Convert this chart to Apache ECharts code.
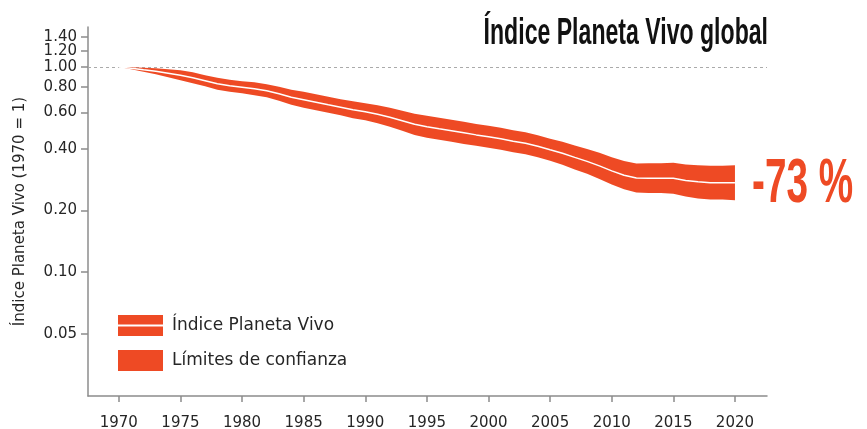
<!DOCTYPE html>
<html>
<head>
<meta charset="utf-8">
<script src="https://cdn.jsdelivr.net/npm/echarts@6/dist/echarts.min.js"></script>
<style>
  html, body { margin: 0; padding: 0; background: #fff; }
  #chart { width: 867px; height: 429px; }
</style>
</head>
<body>
<div id="chart"></div>
<script>
const years = [1970, 1971, 1972, 1973, 1974, 1975, 1976, 1977, 1978, 1979,
  1980, 1981, 1982, 1983, 1984, 1985, 1986, 1987, 1988, 1989,
  1990, 1991, 1992, 1993, 1994, 1995, 1996, 1997, 1998, 1999,
  2000, 2001, 2002, 2003, 2004, 2005, 2006, 2007, 2008, 2009,
  2010, 2011, 2012, 2013, 2014, 2015, 2016, 2017, 2018, 2019, 2020]

// índice (1970 = 1)
const lpi = [1.000, 0.987, 0.970, 0.954, 0.933, 0.912, 0.887, 0.858, 0.829, 0.810,
  0.797, 0.784, 0.766, 0.741, 0.712, 0.693, 0.674, 0.655, 0.637, 0.619,
  0.605, 0.589, 0.569, 0.547, 0.526, 0.512, 0.500, 0.489, 0.478, 0.467,
  0.457, 0.447, 0.435, 0.425, 0.411, 0.395, 0.380, 0.363, 0.347, 0.330,
  0.312, 0.297, 0.288, 0.287, 0.287, 0.287, 0.280, 0.276, 0.273, 0.273, 0.273]

// límites de confianza
const upper = [1.000, 0.998, 0.992, 0.987, 0.976, 0.965, 0.944, 0.913, 0.887, 0.866,
  0.853, 0.843, 0.824, 0.802, 0.775, 0.758, 0.737, 0.717, 0.697, 0.681,
  0.666, 0.652, 0.633, 0.612, 0.592, 0.579, 0.566, 0.553, 0.541, 0.528,
  0.517, 0.506, 0.492, 0.481, 0.465, 0.447, 0.432, 0.415, 0.399, 0.382,
  0.363, 0.348, 0.339, 0.340, 0.340, 0.342, 0.335, 0.332, 0.330, 0.330, 0.332]
const lower = [1.000, 0.976, 0.948, 0.922, 0.892, 0.862, 0.834, 0.807, 0.775, 0.757,
  0.745, 0.729, 0.712, 0.685, 0.654, 0.633, 0.616, 0.599, 0.582, 0.563,
  0.550, 0.532, 0.511, 0.489, 0.467, 0.452, 0.442, 0.432, 0.422, 0.413,
  0.404, 0.395, 0.384, 0.376, 0.363, 0.349, 0.334, 0.317, 0.302, 0.285,
  0.268, 0.254, 0.245, 0.243, 0.243, 0.241, 0.234, 0.229, 0.226, 0.226, 0.224]

const yTicks = [0.05, 0.10, 0.20, 0.40, 0.60, 0.80, 1.00, 1.20, 1.40]
// etiquetas repartidas en dos ejes para que no se oculten por solape
const yLabelsMain = [0.05, 0.10, 0.20, 0.40, 0.60, 0.80, 1.00, 1.40]
const yLabelsExtra = [1.20]
const xTicks = [1970, 1975, 1980, 1985, 1990, 1995, 2000, 2005, 2010, 2015, 2020]
const changeLabel = '-73 %'

const ORANGE = '#ee4a24'
const AXIS = '#8c8c8c'
const TEXT = '#262626'
const FONT = 'DejaVu Sans'

const chart = echarts.init(document.getElementById('chart'))

const lg = (v) => Math.log10(v)
const Y_MIN = -1.603
const Y_MAX = 0.195

// banda de confianza como un solo polígono (superior ida, inferior vuelta)
function renderBand(params, api) {
  if (params.dataIndex !== 0) return
  const pts = []
  for (let i = 0; i < years.length; i++) pts.push(api.coord([years[i], lg(upper[i])]))
  for (let i = years.length - 1; i >= 0; i--) pts.push(api.coord([years[i], lg(lower[i])]))
  return {
    type: 'polygon',
    shape: { points: pts },
    style: { fill: ORANGE },
  }
}

const yLabelStyle = {
  formatter: (v) => Math.pow(10, v).toFixed(2),
  margin: 11,
  hideOverlap: false,
  fontFamily: FONT,
  fontSize: 15,
  color: TEXT,
}

chart.setOption({
  animation: false,
  grid: { left: 88, right: 100, top: 27, bottom: 33, outerBoundsMode: 'none', containLabel: false },
  legend: {
    orient: 'vertical',
    left: 118,
    top: 315,
    padding: 0,
    itemWidth: 45,
    itemHeight: 21,
    itemGap: 14,
    selectedMode: false,
    textStyle: { fontFamily: FONT, fontSize: 17, color: TEXT, padding: [0, 0, 0, 4] },
    data: [
      { name: 'Índice Planeta Vivo', icon: 'path://M0,0H45V9.5H0ZM0,11.5H45V21H0Z', itemStyle: { color: ORANGE, borderWidth: 0 } },
      { name: 'Límites de confianza', icon: 'rect', itemStyle: { color: ORANGE, borderWidth: 0 } },
    ],
  },
  xAxis: {
    type: 'value',
    min: 1967.5,
    max: 2022.6,
    axisLine: { onZero: false, lineStyle: { color: AXIS, width: 1.5 } },
    axisTick: { show: true, length: 6, customValues: xTicks, lineStyle: { color: AXIS, width: 1.5 } },
    axisLabel: { customValues: xTicks, formatter: (v) => String(v), margin: 20, fontFamily: FONT, fontSize: 15, color: TEXT },
    splitLine: { show: false },
  },
  yAxis: [
    {
      type: 'value',
      min: Y_MIN,
      max: Y_MAX,
      axisLine: { show: true, onZero: false, lineStyle: { color: AXIS, width: 1.5 } },
      axisTick: { show: true, length: 7, customValues: yTicks.map(lg), lineStyle: { color: AXIS, width: 1.5 } },
      axisLabel: Object.assign({ customValues: yLabelsMain.map(lg), showMaxLabel: true, showMinLabel: true }, yLabelStyle),
      splitLine: { show: false },
      name: 'Índice Planeta Vivo (1970 = 1)',
      nameLocation: 'middle',
      nameGap: 60,
      nameTextStyle: { fontFamily: FONT, fontSize: 15, color: TEXT },
    },
    {
      type: 'value',
      position: 'left',
      min: Y_MIN,
      max: Y_MAX,
      axisLine: { show: false, onZero: false },
      axisTick: { show: false },
      axisLabel: Object.assign({ customValues: yLabelsExtra.map(lg), showMaxLabel: true, showMinLabel: true }, yLabelStyle),
      splitLine: { show: false },
    },
  ],
  series: [
    {
      name: 'Límites de confianza',
      type: 'custom',
      renderItem: renderBand,
      data: years.map((y, i) => [y, lg(lpi[i])]),
      itemStyle: { color: ORANGE },
      silent: true,
      z: 2,
    },
    {
      name: 'Índice Planeta Vivo',
      type: 'line',
      data: years.map((y, i) => [y, lg(lpi[i])]),
      symbol: 'none',
      lineStyle: { color: '#ffffff', width: 1.5 },
      itemStyle: { color: ORANGE },
      silent: true,
      z: 3,
      markLine: {
        silent: true,
        z: 1,
        symbol: 'none',
        label: { show: false },
        lineStyle: { color: '#aaaaaa', type: [3, 3], width: 1 },
        data: [{ yAxis: 0 }],
      },
    },
  ],
  graphic: [
    {
      type: 'text',
      x: 768,
      y: 34,
      scaleX: 0.624,
      style: {
        text: 'Índice Planeta Vivo global',
        fontFamily: 'Liberation Sans',
        fontWeight: 'bold',
        fontSize: 37,
        fill: '#111111',
        textAlign: 'right',
        textVerticalAlign: 'middle',
      },
    },
    {
      type: 'text',
      x: 752,
      y: 185,
      scaleX: 0.614,
      style: {
        text: changeLabel,
        fontFamily: 'Liberation Sans',
        fontWeight: 'bold',
        fontSize: 63,
        fill: ORANGE,
        textAlign: 'left',
        textVerticalAlign: 'middle',
      },
    },
  ],
})
</script>
</body>
</html>
